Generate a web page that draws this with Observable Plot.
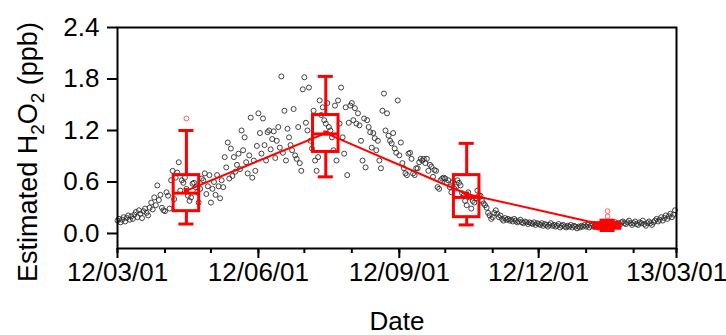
<!DOCTYPE html>
<html>
<head>
<meta charset="utf-8">
<script src="https://cdn.jsdelivr.net/npm/d3@7"></script>
<script src="https://cdn.jsdelivr.net/npm/@observablehq/plot@0.6"></script>
<style>
  html, body { margin: 0; padding: 0; background: #fff; }
  #chart { width: 726px; height: 335px; }
</style>
</head>
<body>
<div id="chart"></div>
<script>
// Daily estimated H2O2 (ppb), one value per day starting 2012-03-01
const seriesStart = "2012-03-01";
const mar2012 = [0.15,0.17,0.13,0.16,0.19,0.14,0.18,0.21,0.16,0.20,0.17,0.22,0.25,0.19,0.27,0.23,0.18,0.26,0.29,0.24,0.21,0.30,0.36,0.28,0.42,0.33,0.56,0.39,0.45,0.30,0.27];
const apr2012 = [0.26,0.48,0.44,0.29,0.62,0.73,0.40,0.65,0.71,0.83,0.50,0.62,0.59,0.65,0.52,0.44,0.38,0.42,0.58,0.59,0.54,0.48,0.36,0.52,0.64,0.62,0.70,0.46,0.55,0.68];
const may2012 = [0.36,0.52,0.60,0.45,0.68,0.55,0.41,0.62,0.54,0.89,0.77,1.06,0.64,0.99,0.67,0.89,0.72,0.80,0.93,0.75,1.20,0.97,1.12,0.83,0.70,0.91,1.35,0.65,0.85,0.73,1.02];
const jun2012 = [1.40,1.17,0.93,1.34,1.03,0.85,1.18,1.20,0.98,1.10,1.19,0.88,1.08,1.24,1.00,1.83,0.94,1.43,0.85,1.22,1.12,1.03,0.97,1.45,0.91,0.87,1.24,0.82,0.73,1.68];
const jul2012 = [1.82,1.29,1.20,1.70,1.08,0.99,1.43,0.85,0.73,0.89,1.55,1.38,1.47,1.32,1.28,1.52,1.24,1.20,1.12,0.97,1.49,0.85,1.55,1.28,1.70,1.12,0.93,1.47,0.68,1.29,1.49];
const aug2012 = [1.52,1.32,1.46,1.28,1.40,1.26,1.08,0.85,1.34,0.77,1.32,1.24,1.18,1.00,1.17,1.11,0.97,1.08,0.85,0.76,1.43,1.63,1.20,1.40,1.14,1.08,1.05,1.17,0.99,0.94,1.55];
const sep2012 = [0.91,1.06,0.82,0.76,0.70,0.68,0.93,0.94,0.87,0.70,0.68,0.76,0.76,0.83,0.87,0.85,0.87,0.82,0.87,0.73,0.80,0.78,0.66,0.74,0.73,0.54,0.52,0.62,0.64,0.65];
const oct2012 = [0.64,0.59,0.62,0.54,0.48,0.60,0.52,0.54,0.62,0.59,0.56,0.47,0.44,0.38,0.33,0.48,0.42,0.29,0.38,0.36,0.41,0.50,0.44,0.44,0.38,0.35,0.33,0.30,0.24,0.21,0.17];
const nov2012 = [0.19,0.24,0.27,0.23,0.19,0.21,0.17,0.15,0.18,0.16,0.17,0.15,0.16,0.14,0.17,0.15,0.13,0.14,0.16,0.13,0.12,0.14,0.13,0.11,0.13,0.12,0.11,0.13,0.10,0.12];
const dec2012 = [0.11,0.10,0.12,0.09,0.11,0.10,0.08,0.10,0.12,0.09,0.10,0.08,0.09,0.11,0.07,0.09,0.10,0.08,0.07,0.09,0.08,0.10,0.07,0.09,0.08,0.06,0.08,0.07,0.09,0.08,0.10];
const jan2013 = [0.08,0.10,0.07,0.09,0.11,0.08,0.10,0.09,0.07,0.10,0.12,0.09,0.08,0.11,0.10,0.09,0.12,0.11,0.10,0.13,0.11,0.12,0.10,0.13,0.14,0.12,0.11,0.13,0.15,0.12,0.10];
const feb2013 = [0.12,0.14,0.11,0.10,0.13,0.12,0.15,0.11,0.09,0.12,0.14,0.12,0.10,0.13,0.15,0.17,0.14,0.16,0.19,0.15,0.18,0.21,0.17,0.20,0.23,0.19,0.22,0.27];

// Seasonal box-plot summaries (MAM, JJA, SON, DJF)
const seasonCenters = ["2012-04-15", "2012-07-15", "2012-10-15", "2013-01-15"];
const whiskerLow  = [0.11, 0.66, 0.10, 0.035];
const quartile1   = [0.26, 0.95, 0.19, 0.055];
const medians     = [0.47, 1.16, 0.42, 0.09];
const quartile3   = [0.68, 1.38, 0.68, 0.12];
const whiskerHigh = [1.20, 1.83, 1.05, 0.155];
const means       = [0.50, 1.17, 0.46, 0.09];
const outlierSeason = [0, 3, 3];
const outlierValue  = [1.34, 0.20, 0.26];

const yTicks = [0, 0.6, 1.2, 1.8, 2.4];
const xMajorTicks = ["2012-03-01", "2012-06-01", "2012-09-01", "2012-12-01", "2013-03-01"];
const xDomain = ["2012-03-01", "2013-03-01"];

// ---- build tables ----
const start = new Date(seriesStart);
const daily = [mar2012, apr2012, may2012, jun2012, jul2012, aug2012,
               sep2012, oct2012, nov2012, dec2012, jan2013, feb2013]
  .flat()
  .map((v, i) => ({date: d3.utcDay.offset(start, i), value: v}));

const HOUR = 3600e3;
const boxHalf = 200 * HOUR;   // half box width on the time axis
const capHalf = 118 * HOUR;   // half whisker-cap width
const seasons = seasonCenters.map((c, i) => {
  const date = new Date(c);
  return {
    date,
    lo: whiskerLow[i], q1: quartile1[i], med: medians[i],
    q3: quartile3[i], hi: whiskerHigh[i], mean: means[i],
    bx1: new Date(+date - boxHalf), bx2: new Date(+date + boxHalf),
    cx1: new Date(+date - capHalf), cx2: new Date(+date + capHalf)
  };
});
const outliers = outlierSeason.map((s, i) => ({date: seasons[s].date, value: outlierValue[i]}));

const RED = "#ff0000";
const FONT = "'Liberation Sans', Arial, sans-serif";
const domain = xDomain.map(d => new Date(d));

const chart = Plot.plot({
  width: 726,
  height: 335,
  marginLeft: 117,
  marginRight: 50,
  marginTop: 27,
  marginBottom: 87,
  style: {fontFamily: FONT, background: "#fff", color: "#000"},
  x: {type: "utc", domain},
  y: {domain: [-0.175, 2.4]},
  marks: [
    // daily estimates
    Plot.dot(daily, {x: "date", y: "value", r: 2.5, stroke: "#2e2e2e", strokeWidth: 0.9, fill: "none"}),
    // seasonal boxes
    Plot.ruleX(seasons, {x: "date", y1: "q3", y2: "hi", stroke: RED, strokeWidth: 3}),
    Plot.ruleX(seasons, {x: "date", y1: "lo", y2: "q1", stroke: RED, strokeWidth: 3}),
    Plot.ruleY(seasons, {y: "hi", x1: "cx1", x2: "cx2", stroke: RED, strokeWidth: 3}),
    Plot.ruleY(seasons, {y: "lo", x1: "cx1", x2: "cx2", stroke: RED, strokeWidth: 3}),
    Plot.rect(seasons, {x1: "bx1", x2: "bx2", y1: "q1", y2: "q3", stroke: RED, strokeWidth: 3, fill: "none"}),
    Plot.ruleY(seasons, {y: "med", x1: "bx1", x2: "bx2", stroke: RED, strokeWidth: 3}),
    Plot.dot(outliers, {x: "date", y: "value", r: 2.4, stroke: "#ff5050", strokeWidth: 0.9, fill: "none"}),
    // seasonal means
    Plot.line(seasons, {x: "date", y: "mean", stroke: RED, strokeWidth: 2}),
    Plot.dot(seasons, {x: "date", y: "mean", symbol: "square", r: 2.8, fill: RED}),
    // axes and frame
    Plot.frame({stroke: "#000", strokeWidth: 2}),
    Plot.axisY(yTicks, {tickSize: 10, tickPadding: 8, fontSize: 26, strokeWidth: 2,
      tickFormat: d3.format(".1f"), label: null}),
    Plot.axisX(d3.utcMonth.range(domain[0], d3.utcDay.offset(domain[1], 1)),
      {tickSize: 5, strokeWidth: 2, tickFormat: () => "", label: null}),
    Plot.axisX(xMajorTicks.map(d => new Date(d)),
      {tickSize: 10, tickPadding: 4, fontSize: 26, strokeWidth: 2,
       tickFormat: d3.utcFormat("%y/%m/%d"), label: null}),
    Plot.text(["Date"], {frameAnchor: "bottom", dy: 81, fontSize: 26, fill: "#000"})
  ]
});

document.getElementById("chart").appendChild(chart);

// rotated y-axis title with subscripts
const title = d3.select(chart).append("text")
  .attr("transform", "translate(37,152) rotate(-90)")
  .attr("text-anchor", "middle")
  .attr("font-size", 27)
  .attr("font-family", FONT)
  .attr("fill", "#000");
title.append("tspan").text("Estimated H");
title.append("tspan").attr("font-size", 19).attr("dy", 7).text("2");
title.append("tspan").attr("dy", -7).text("O");
title.append("tspan").attr("font-size", 19).attr("dy", 7).text("2");
title.append("tspan").attr("dy", -7).text(" (ppb)");
</script>
</body>
</html>
